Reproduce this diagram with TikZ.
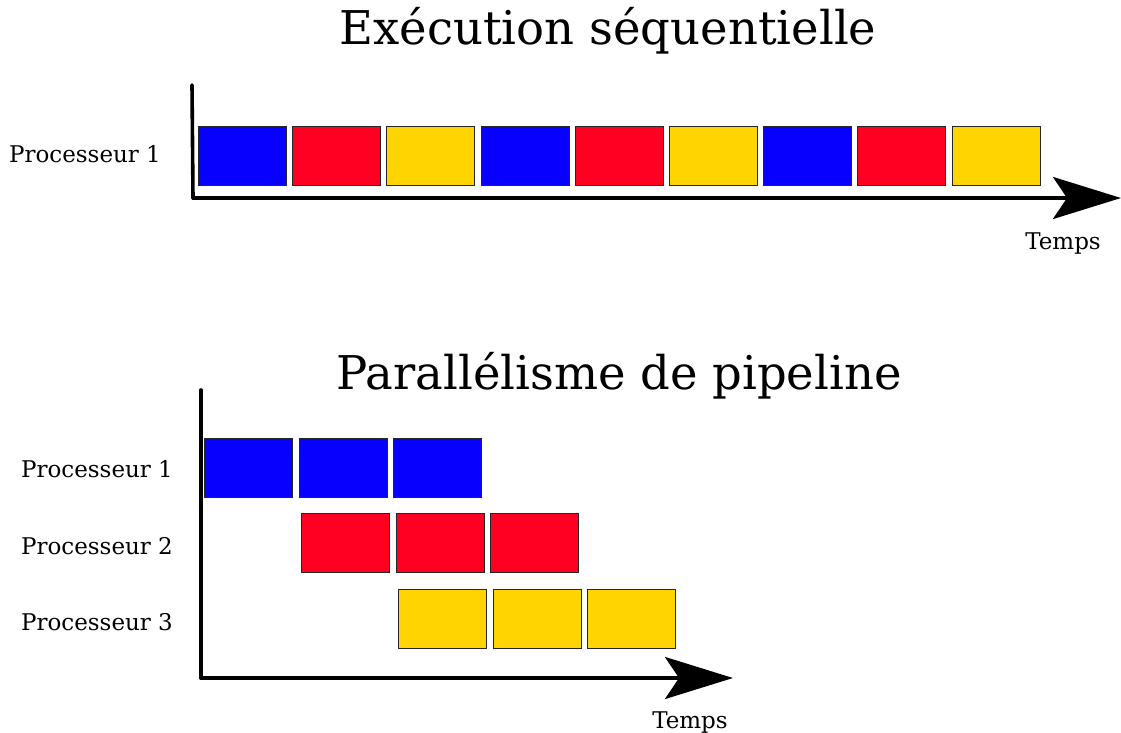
\documentclass[tikz,border=0pt]{standalone}
\usepackage{fontspec}
\setmainfont{DejaVu Serif}
\usetikzlibrary{arrows.meta}
\definecolor{tblue}{HTML}{0800FF}
\definecolor{tred}{HTML}{FF0022}
\definecolor{tyellow}{HTML}{FFD400}
\begin{document}
\begin{tikzpicture}[x=1pt,y=-1pt,
  task/.style={draw=black!85,line width=1pt,minimum width=88pt,minimum height=59pt,
    inner sep=0pt,anchor=north west},
  axis/.style={line width=3.6pt,line cap=round},
  timearrow/.style={axis,-{Stealth[length=68pt,width=42pt,inset=14pt]}},
  ttl/.style={font=\fontsize{46.5}{52}\selectfont},
  lbl/.style={font=\fontsize{23}{27}\selectfont}]
\useasboundingbox (0,0) rectangle (1121,733);

% ---- sequential execution ----
\node[ttl] (t1) at (608,31) {Exécution séquentielle};
\node[lbl] (p1) at (85,154) {Processeur 1};
\coordinate (a1top) at (192,85);
\coordinate (a1org) at (193,198);
\coordinate (a1end) at (1121,198);
\draw[axis] (a1top) -- (a1org);
\draw[timearrow] (a1org) -- (a1end);
\node[lbl] (tm1) at (1063,244) {Temps};
\foreach \c [count=\i from 0] in {tblue,tred,tyellow,tblue,tred,tyellow,tblue,tred,tyellow}
  \node[task,fill=\c] (s\i) at (198+94.2*\i,126) {};

% ---- pipeline parallelism ----
\node[ttl] (t2) at (619,376) {Parallélisme de pipeline};
\node[lbl] (q1) at (97,469) {Processeur 1};
\node[lbl] (q2) at (97,546) {Processeur 2};
\node[lbl] (q3) at (97,622) {Processeur 3};
\coordinate (a2top) at (201,390);
\coordinate (a2org) at (201,678);
\coordinate (a2end) at (733,678);
\draw[axis] (a2top) -- (a2org);
\draw[timearrow] (a2org) -- (a2end);
\node[lbl] (tm2) at (690,722) {Temps};
\foreach \i in {0,1,2} {
  \node[task,fill=tblue] (b\i) at (204+94.5*\i,438) {};
  \node[task,fill=tred] (r\i) at (301+94.5*\i,513) {};
  \node[task,fill=tyellow] (y\i) at (398+94.5*\i,589) {};
}
\end{tikzpicture}
\end{document}
